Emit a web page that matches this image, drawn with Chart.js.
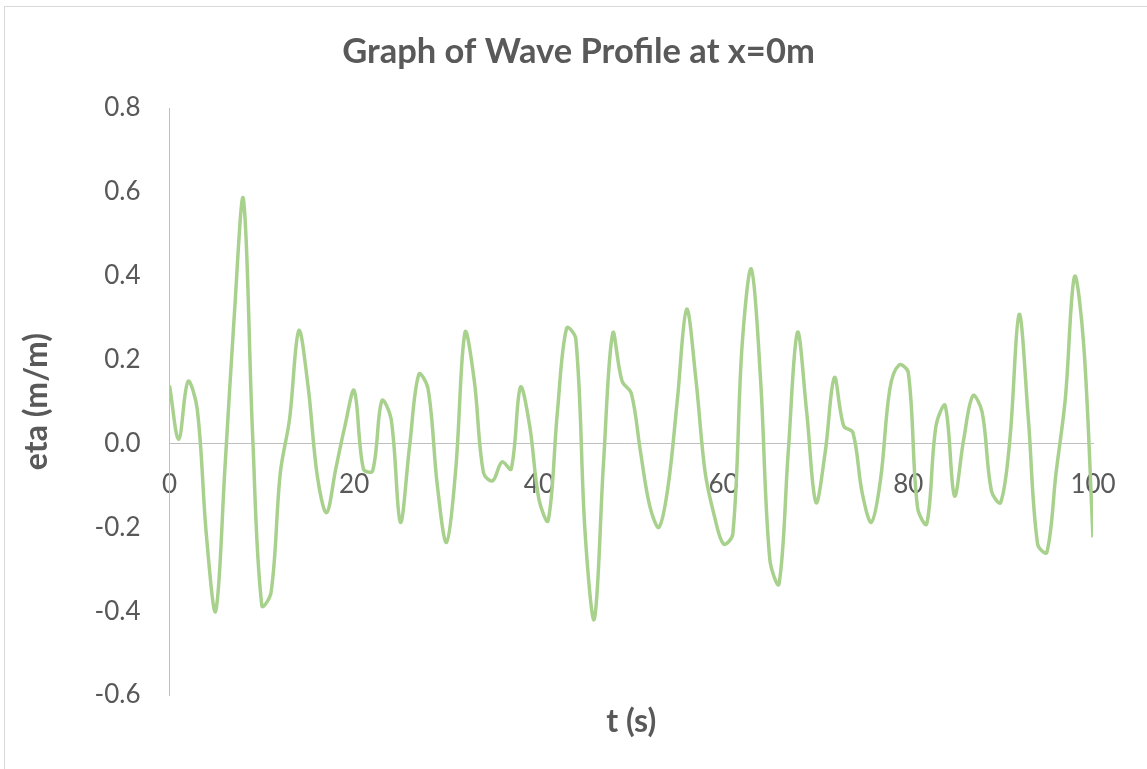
<!DOCTYPE html>
<html>
<head>
<meta charset="utf-8">
<title>Graph of Wave Profile at x=0m</title>
<script src="https://cdn.jsdelivr.net/npm/chart.js@4.4.1/dist/chart.umd.min.js"></script>
<style>
  html, body { margin: 0; padding: 0; background: #ffffff; }
  #wrap { width: 1147px; height: 769px; position: relative; }
</style>
</head>
<body>
<div id="wrap"><canvas id="waveChart" width="1147" height="769"></canvas></div>
<script>
// Time samples (s)
const timeSeconds = [
  0, 1, 2, 3, 4, 5, 6, 7, 8, 9,
  10, 11, 12, 13, 14, 15, 16, 17, 18, 19,
  20, 21, 22, 23, 24, 25, 26, 27, 28, 29,
  30, 31, 32, 33, 34, 35, 36, 37, 38, 39,
  40, 41, 42, 43, 44, 45, 46, 47, 48, 49,
  50, 51, 52, 53, 54, 55, 56, 57, 58, 59,
  60, 61, 62, 63, 64, 65, 66, 67, 68, 69,
  70, 71, 72, 73, 74, 75, 76, 77, 78, 79,
  80, 81, 82, 83, 84, 85, 86, 87, 88, 89,
  90, 91, 92, 93, 94, 95, 96, 97, 98, 99,
  100
];

// Surface elevation eta (m/m) at x = 0 m
const etaValues = [
  0.138, 0.010, 0.148, 0.082, -0.220, -0.400, -0.060, 0.300, 0.583, 0.020,
  -0.387, -0.355, -0.070, 0.058, 0.269, 0.137, -0.077, -0.165, -0.061, 0.042,
  0.126, -0.061, -0.065, 0.102, 0.058, -0.188, -0.006, 0.165, 0.130, -0.100,
  -0.236, -0.060, 0.265, 0.150, -0.070, -0.089, -0.044, -0.061, 0.134, 0.042,
  -0.133, -0.184, 0.074, 0.275, 0.249, -0.212, -0.419, -0.045, 0.263, 0.149,
  0.120, -0.020, -0.149, -0.200, -0.100, 0.106, 0.320, 0.153, -0.069, -0.173,
  -0.240, -0.216, 0.233, 0.416, 0.153, -0.276, -0.335, -0.020, 0.265, 0.074,
  -0.141, -0.021, 0.157, 0.042, 0.026, -0.117, -0.188, -0.085, 0.130, 0.187,
  0.169, -0.153, -0.192, 0.042, 0.090, -0.125, 0.010, 0.114, 0.074, -0.113,
  -0.141, 0.010, 0.308, 0.058, -0.240, -0.260, -0.070, 0.106, 0.398, 0.233,
  -0.224
];

// Axis tick values
const xTickValues = [0, 20, 40, 60, 80, 100];
const yTickValues = [-0.6, -0.4, -0.2, 0.0, 0.2, 0.4, 0.6, 0.8];

const textColor = '#595959';
const axisColor = '#bfbfbf';
const lineColor = '#a9d18e';
const fontFamily = 'Lato, "Open Sans", sans-serif';

const points = timeSeconds.map((t, i) => ({ x: t, y: etaValues[i] }));

// White background plus the thin outer frame of the chart
const framePlugin = {
  id: 'frame',
  beforeDraw(chart) {
    const ctx = chart.ctx;
    ctx.save();
    ctx.fillStyle = '#ffffff';
    ctx.fillRect(0, 0, chart.width, chart.height);
    ctx.strokeStyle = '#d9d9d9';
    ctx.lineWidth = 1;
    ctx.strokeRect(4.5, 6.5, chart.width + 20, chart.height + 20);
    ctx.restore();
  }
};

new Chart(document.getElementById('waveChart'), {
  type: 'line',
  data: {
    datasets: [{
      label: 'eta',
      data: points,
      borderColor: lineColor,
      borderWidth: 3.5,
      pointRadius: 0,
      pointHoverRadius: 0,
      tension: 0.35,
      fill: false
    }]
  },
  options: {
    responsive: false,
    animation: false,
    devicePixelRatio: 1,
    layout: { padding: { left: 10, right: 0, top: 0, bottom: 0 } },
    plugins: {
      legend: { display: false },
      tooltip: { enabled: false },
      title: {
        display: true,
        text: 'Graph of Wave Profile at x=0m',
        color: textColor,
        font: { family: fontFamily, size: 34.5, weight: 'bold' },
        padding: { top: 31.3, bottom: 35.3 }
      },
      subtitle: {
        display: true,
        position: 'bottom',
        fullSize: false,
        text: 't (s)',
        color: textColor,
        font: { family: fontFamily, size: 32, weight: 'bold' },
        padding: { top: 7.8, bottom: 27.8 }
      }
    },
    scales: {
      x: {
        type: 'linear',
        position: { y: 0 },
        min: 0,
        max: 100,
        afterBuildTicks(scale) {
          scale.ticks = xTickValues.map(v => ({ value: v }));
        },
        grid: { display: false, drawTicks: false },
        border: { display: true, color: axisColor, width: 1 },
        ticks: {
          color: textColor,
          font: { family: fontFamily, size: 26 },
          padding: 26,
          maxRotation: 0,
          callback: v => String(v)
        }
      },
      y: {
        type: 'linear',
        position: 'left',
        min: -0.6,
        max: 0.8,
        afterBuildTicks(scale) {
          scale.ticks = yTickValues.map(v => ({ value: v }));
        },
        afterFit(scale) { scale.width = 159.5; },
        grid: { display: false, drawTicks: false },
        border: { display: true, color: axisColor, width: 1 },
        ticks: {
          color: textColor,
          font: { family: fontFamily, size: 26 },
          padding: 29,
          callback: v => Number(v).toFixed(1)
        },
        title: {
          display: true,
          text: 'eta (m/m)',
          color: textColor,
          font: { family: fontFamily, size: 32, weight: 'bold' },
          padding: { top: 7.8, bottom: 0 }
        }
      },
      yRight: {
        type: 'linear',
        position: 'right',
        display: true,
        afterFit(scale) { scale.width = 54; },
        grid: { display: false, drawTicks: false },
        border: { display: false },
        ticks: { display: false }
      }
    }
  },
  plugins: [framePlugin]
});
</script>
</body>
</html>
